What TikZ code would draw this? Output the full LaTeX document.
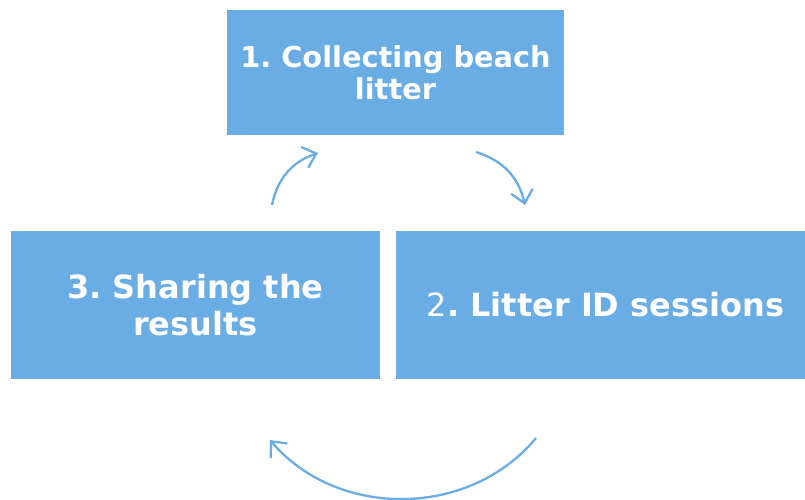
\documentclass[tikz,border=0pt]{standalone}
\usepackage{fontspec}
\setmainfont{DejaVu Sans}
\usetikzlibrary{arrows.meta}
\definecolor{boxblue}{RGB}{106,172,228}
\frenchspacing
\begin{document}
\begin{tikzpicture}[x=0.02cm, y=-0.02cm,
  box/.style={fill=boxblue, text=white, align=center, inner sep=0pt,
    font=\fontsize{18.2}{21.5}\selectfont\bfseries},
  cycle/.style={draw=boxblue, line width=1.3pt,
    -{Straight Barb[length=7pt, width=12.5pt, line width=1.3pt]}}]
\useasboundingbox (0,0) rectangle (805,500);

\node[box, minimum width=6.74cm, minimum height=2.5cm,
  font=\fontsize{16.4}{18.1}\selectfont\bfseries] (collect) at (395.5,72.5){1. Collecting beach\\litter};
\node[box, minimum width=8.18cm, minimum height=2.96cm] (session) at (600.5,305){\hspace*{0.2cm}{\mdseries 2}. Litter ID sessions};
\node[box, minimum width=7.38cm, minimum height=2.96cm] (share) at (195.5,305){3. Sharing the\\results};

\coordinate (a1) at (476,152);
\coordinate (b1) at (525,205);
\coordinate (a2) at (536,438);
\coordinate (b2) at (270,440);
\coordinate (a3) at (272,205);
\coordinate (b3) at (318,153);

\draw[cycle](a1) to [bend left=30](b1);
\draw[cycle](a2) to [bend left=50](b2);
\draw[cycle](a3) to [bend left=30](b3);

\end{tikzpicture}
\end{document}
